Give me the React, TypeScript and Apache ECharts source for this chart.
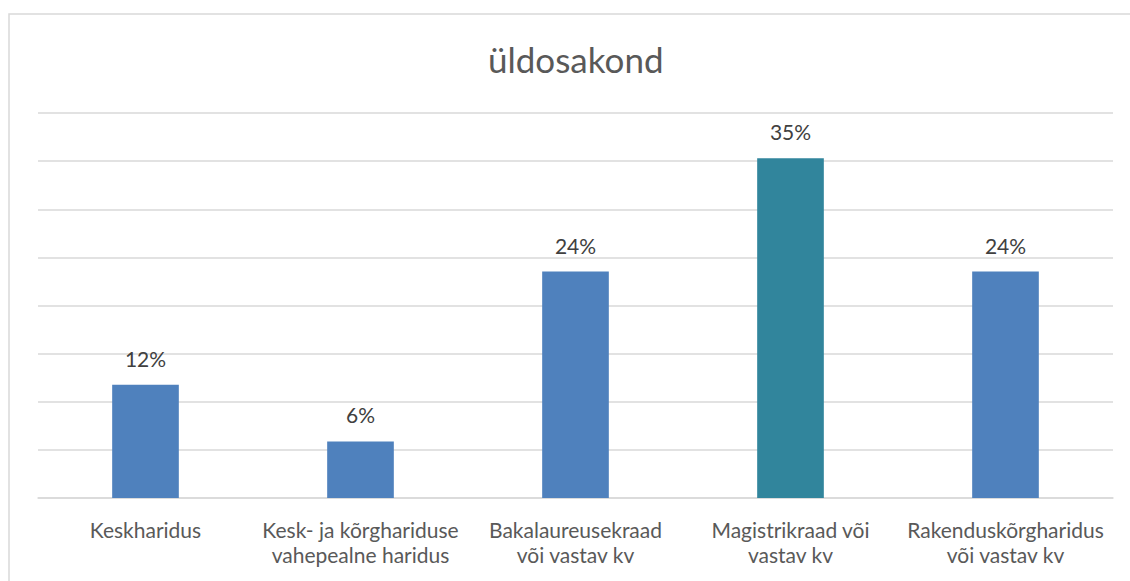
import React, { useEffect, useRef } from "react";
import * as echarts from "echarts";

const title = "üldosakond";
const categories = [
  "Keskharidus",
  "Kesk- ja kõrghariduse\nvahepealne haridus",
  "Bakalaureusekraad\nvõi vastav kv",
  "Magistrikraad või\nvastav kv",
  "Rakenduskõrgharidus\nvõi vastav kv",
];
const values = [11.76, 5.88, 23.53, 35.29, 23.53];
const barColors = ["#4F81BD", "#4F81BD", "#4F81BD", "#31859C", "#4F81BD"];

const FONT = "Lato, 'Liberation Sans', sans-serif";

export default function App() {
  const ref = useRef<HTMLDivElement>(null);
  useEffect(() => {
    document.body.style.margin = "0";
    const chart = echarts.init(ref.current!, null, { renderer: "svg" });
    chart.setOption({
      animation: false,
      backgroundColor: "#ffffff",
      title: {
        text: title,
        left: 483,
        top: 36,
        textStyle: { fontFamily: FONT, fontSize: 35, fontWeight: "normal", color: "#595959" },
      },
      graphic: [
        {
          type: "rect",
          shape: { x: 9, y: 14, width: 1200, height: 700 },
          style: { fill: "none", stroke: "#D9D9D9", lineWidth: 1.5 },
          silent: true,
        },
      ],
      grid: { left: 38, right: 17, top: 113, bottom: 83 },
      xAxis: {
        type: "category",
        data: categories,
        axisTick: { show: false },
        axisLine: { lineStyle: { color: "#D9D9D9", width: 1.5 } },
        axisLabel: {
          fontFamily: FONT,
          fontSize: 21,
          color: "#595959",
          lineHeight: 25,
          margin: 19,
          interval: 0,
        },
      },
      yAxis: {
        type: "value",
        min: 0,
        max: 40,
        interval: 5,
        axisLabel: { show: false },
        axisLine: { show: false },
        axisTick: { show: false },
        splitLine: { lineStyle: { color: "#D9D9D9", width: 1.5 } },
      },
      series: [
        {
          type: "bar",
          barWidth: "31%",
          data: values.map((v, i) => ({ value: v, itemStyle: { color: barColors[i] } })),
          label: {
            show: true,
            position: "top",
            distance: 16,
            fontFamily: FONT,
            fontSize: 21,
            color: "#404040",
            formatter: (p: any) => Math.round(p.value) + "%",
          },
        },
      ],
    });
    return () => chart.dispose();
  }, []);
  return <div ref={ref} style={{ width: 1130, height: 581 }} />;
}
